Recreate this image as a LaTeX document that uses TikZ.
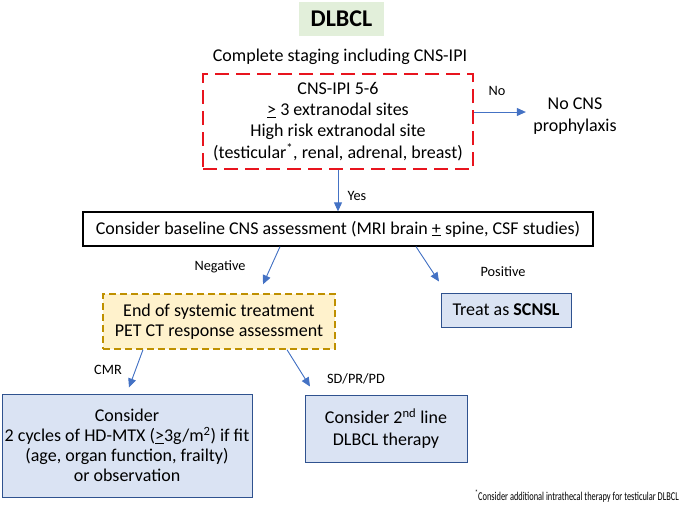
\documentclass[tikz,border=0pt]{standalone}
\usepackage{fontspec}
\setmainfont{Carlito}
\usepackage{tikz}
\usetikzlibrary{arrows.meta, calc, positioning}

\definecolor{greenfill}{HTML}{E2EFDA}
\definecolor{ipired}{HTML}{E8141E}
\definecolor{eotfill}{HTML}{FFF2CC}
\definecolor{eotline}{HTML}{BF9000}
\definecolor{bluefill}{HTML}{DAE3F3}
\definecolor{boxline}{HTML}{2F528F}
\definecolor{arrblue}{HTML}{4472C4}

\begin{document}
\begin{tikzpicture}[x=1pt, y=-1pt, font=\fontsize{18}{21}\selectfont,
  arr/.style={-{Triangle[length=9pt,width=8pt]}, draw=arrblue, fill=arrblue, line width=0.9pt},
  lbl/.style={font=\fontsize{14.3}{16}\selectfont, inner sep=0pt},
  bluebox/.style={draw=boxline, fill=bluefill, line width=1pt, align=center, inner sep=0pt}]
                        \useasboundingbox (0,0) rectangle (680,504);
                        \node[fill=greenfill, minimum width=85, minimum height=34, font=\fontsize{24}{28}\selectfont\bfseries] (dl) at (341.5,19) {DLBCL};
                        \node (stg) at (340,57) {Complete staging including CNS-IPI};
                        \node[draw=ipired, dash pattern=on 14pt off 7pt, line width=2.6pt, minimum width=270, minimum height=95, align=center, font=\fontsize{18}{21.3}\selectfont] (ipi) at (338,121.5) {CNS-IPI 5-6\\ \underline{>} 3 extranodal sites\\ High risk extranodal site\\ (testicular\textsuperscript{*}, renal, adrenal, breast)};
                        \node[align=center, font=\fontsize{18}{22}\selectfont] (nop) at (575,116) {No CNS\\ prophylaxis};
                        \node[draw, line width=1.3pt, minimum width=510, minimum height=34] (base) at (338,229) {Consider baseline CNS assessment (MRI brain \underline{+} spine, CSF studies)};
                        \node[draw=eotline, fill=eotfill, dash pattern=on 7pt off 4pt, line width=1.4pt, minimum width=232, minimum height=55, align=center, font=\fontsize{18}{20}\selectfont] (eot) at (219,321.5) {End of systemic treatment\\ PET CT response assessment};
                        \node[bluebox, minimum width=130, minimum height=34] (scnsl) at (506,310) {Treat as \textbf{SCNSL}};
                        \node[bluebox, minimum width=250, minimum height=103, font=\fontsize{18}{20}\selectfont] (cons) at (127,445.5) {Consider\\ 2 cycles of HD-MTX (\underline{>}3g/m\textsuperscript{2}) if fit\\ (age, organ function, frailty)\\ or observation};
                        \node[bluebox, minimum width=162, minimum height=67, font=\fontsize{18}{22}\selectfont] (sec) at (386,428.5) {Consider 2\textsuperscript{nd} line\\ DLBCL therapy};
                        \node[inner sep=0pt] (fn) at (577,496) {\resizebox{204pt}{\height}{\fontsize{12}{14}\selectfont\textsuperscript{*}Consider additional intrathecal therapy for testicular DLBCL}};
                        \node[lbl] (lno) at (497,91) {No};
                        \node[lbl] (lyes) at (357,196) {Yes};
                        \node[lbl] (lneg) at (220,267) {Negative};
                        \node[lbl] (lpos) at (503,272) {Positive};
                        \node[lbl] (lcmr) at (108,370) {CMR};
                        \node[lbl] (lsd) at (356,379) {SD/PR/PD};
                        \draw
                        ($(ipi.east)+(0,-9.5)$) edge[arr] ($(nop.west)+(-4,-4)$)
                        (ipi.south) edge[arr] (base.north)
                        ($(base.south)+(-58,0)$) edge[arr] ($(eot.north)+(44,-9)$)
                        ($(base.south)+(78,0)$) edge[arr] ($(scnsl.north)+(-67,-11)$)
                        ($(eot.south)+(-76,0)$) edge[arr] ($(cons.north)+(2,-6)$)
                        ($(eot.south)+(68,0)$) edge[arr] ($(sec.north)+(-76,-8)$);
                    \end{tikzpicture}
\end{document}
